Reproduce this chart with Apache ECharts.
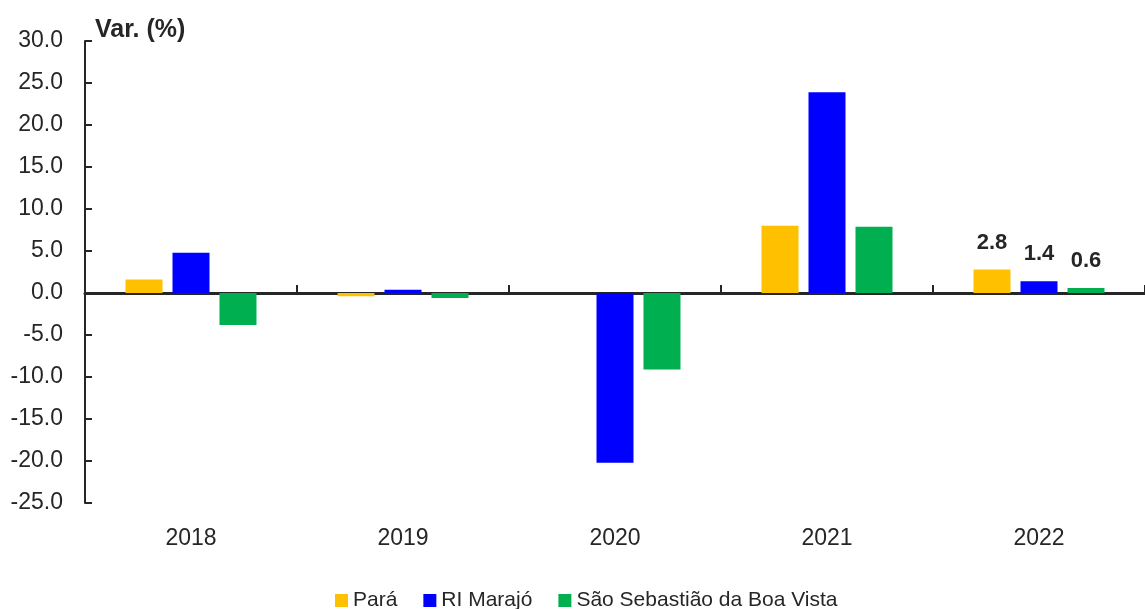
<!DOCTYPE html>
<html><head><meta charset="utf-8">
<script src="https://cdn.jsdelivr.net/npm/echarts@6/dist/echarts.min.js"></script>
<style>html,body{margin:0;padding:0;background:#fff}#c{width:1145px;height:609px}</style>
</head><body><div id="c"></div>
<script>
const categories = ['2018', '2019', '2020', '2021', '2022'];
const para = [1.6, -0.4, 0.0, 8.0, 2.8];
const riMarajo = [4.8, 0.4, -20.2, 23.9, 1.4];
const saoSebastiao = [-3.8, -0.6, -9.1, 7.9, 0.6];
const seriesNames = ['Pará', 'RI Marajó', 'São Sebastião da Boa Vista'];
const colors = ['#FFC000', '#0000FF', '#00B050'];
const labelIndex = 4;

const FONT = '"Liberation Sans", Arial, sans-serif';
const AX = '#262626';

function mk(name, vals, color) {
  return {
    name: name, type: 'bar', xAxisIndex: 0, yAxisIndex: 0,
    barWidth: 37, barGap: '27%',
    itemStyle: { color: color },
    data: vals.map((v, i) => i === labelIndex ? {
      value: v,
      label: { show: true, position: 'top', distance: 16, formatter: (p) => p.value.toFixed(1),
        fontFamily: FONT, fontWeight: 'bold', fontSize: 22, color: AX }
    } : v)
  };
}

const chart = echarts.init(document.getElementById('c'));
chart.setOption({
  animation: false,
  textStyle: { fontFamily: FONT },
  title: { text: 'Var. (%)', left: 90, top: 13,
    textStyle: { fontFamily: FONT, fontWeight: 'bold', fontSize: 25, color: AX } },
  legend: {
    left: 330, top: 585, itemWidth: 13, itemHeight: 13, itemGap: 26, icon: 'rect',
    textStyle: { fontFamily: FONT, fontSize: 21, color: AX },
    data: seriesNames
  },
  grid: { left: 85, right: 0, top: 41, bottom: 106, containLabel: false },
  xAxis: [
    { type: 'category', data: categories, position: 'bottom',
      axisLine: { onZero: true, lineStyle: { color: AX, width: 3 } },
      axisTick: { show: true, inside: true, length: 8, alignWithLabel: false, lineStyle: { color: AX, width: 2 } },
      axisLabel: { show: false }, splitLine: { show: false } },
    { type: 'category', data: categories, position: 'bottom',
      axisLine: { show: false, onZero: false }, axisTick: { show: false },
      axisLabel: { show: true, margin: 24, fontFamily: FONT, fontSize: 23, color: AX },
      splitLine: { show: false } }
  ],
  yAxis: {
    type: 'value', min: -25, max: 30, interval: 5,
    axisLine: { show: true, lineStyle: { color: AX, width: 2 } },
    axisTick: { show: true, inside: true, length: 7, lineStyle: { color: AX, width: 2 } },
    axisLabel: { margin: 22, fontFamily: FONT, fontSize: 23, color: AX, formatter: (v) => v.toFixed(1) },
    splitLine: { show: false }
  },
  series: [
    mk(seriesNames[0], para, colors[0]),
    mk(seriesNames[1], riMarajo, colors[1]),
    mk(seriesNames[2], saoSebastiao, colors[2])
  ]
});
</script></body></html>
